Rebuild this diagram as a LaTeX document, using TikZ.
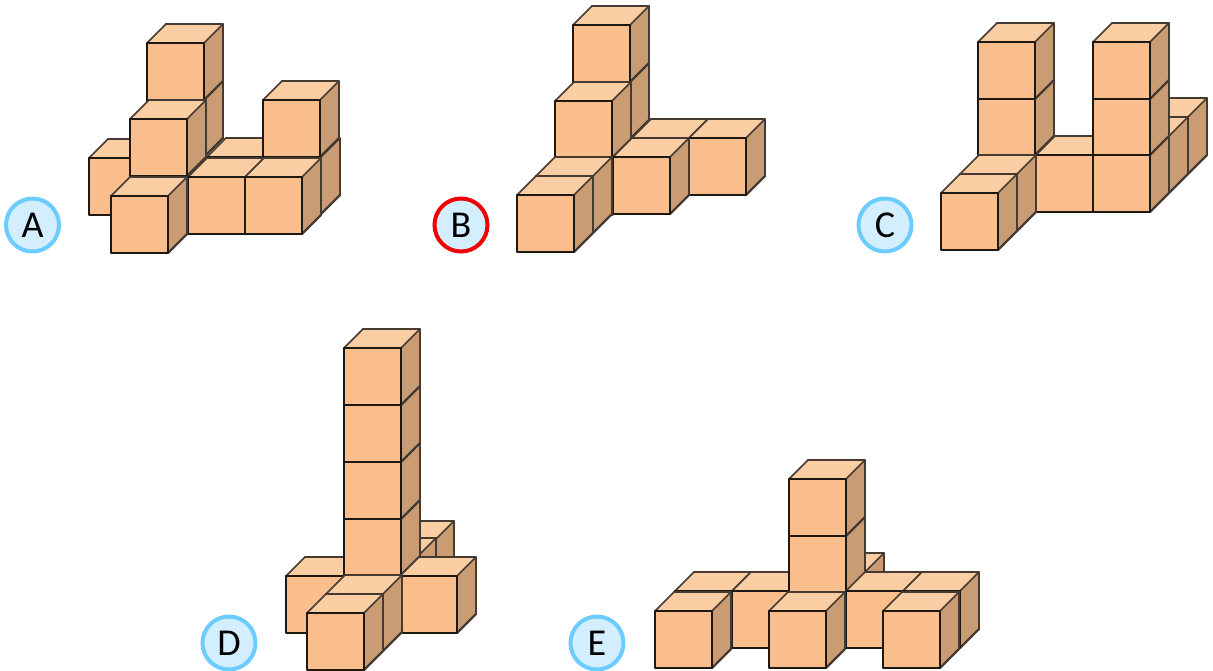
\documentclass[tikz,border=0pt]{standalone}
\usepackage{fontspec}
\setmainfont{Carlito}
\definecolor{cubeface}{HTML}{F9BE8B}
\definecolor{cubetop}{HTML}{FBCDA2}
\definecolor{cubeside}{HTML}{CA9C73}
\definecolor{cubeline}{HTML}{1E1813}
\definecolor{cubesoft}{HTML}{463B32}
\definecolor{badgefill}{HTML}{D3EEFF}
\definecolor{badgeblue}{HTML}{6CCBFF}
\definecolor{badgered}{HTML}{F00000}
\tikzset{
  frontedge/.style={draw=cubeline,line width=2.4pt,line join=round},
  backedge/.style={draw=cubesoft,line width=2.3pt,line join=round,line cap=round},
  diagedge/.style={draw=cubesoft,line width=1.5pt,line cap=round},
  badge/.style={circle,fill=badgefill,draw=badgeblue,line width=4pt,minimum size=53pt,inner sep=0pt,
    font=\fontsize{38}{38}\selectfont,text=black},
  badgewrong/.style={badge,draw=badgered}
}
% #1 = left x, #2 = bottom y of the front face (pixels, y downward)
\newcommand{\cubeat}[2]{%
  \fill[cubetop] (#1,#2-57) -- ++(19,-19) -- ++(57,0) -- ++(-19,19) -- cycle;
  \fill[cubeside] (#1+57,#2) -- ++(19,-19) -- ++(0,-57) -- ++(-19,19) -- cycle;
  \draw[backedge] (#1+19,#2-76) -- ++(57,0) -- ++(0,57);
  \draw[diagedge] (#1,#2-57) -- ++(19,-19);
  \draw[diagedge] (#1+57,#2-57) -- ++(19,-19);
  \draw[backedge] (#1+57,#2) -- ++(19,-19);
  \fill[cubeface,frontedge] (#1,#2) rectangle ++(57,-57);
}
\newcommand{\cubelist}[1]{\foreach \cx/\cy in {#1}{\cubeat{\cx}{\cy}}}
\begin{document}
\begin{tikzpicture}[x=1pt,y=-1pt]
\useasboundingbox (0,0) rectangle (1213,671);
\fill[white] (0,0) rectangle (1213,671);
% A
\cubelist{89/215,147/157,147/100,207/214,264/214,263/157,131/234,130/176,188/234,245/234,111/253}
% B
\cubelist{573/139,573/82,632/195,689/195,555/215,555/158,613/214,536/233,517/252}
% C
\cubelist{1131/174,1112/193,978/212,978/155,978/99,1036/212,1093/212,1093/155,1093/99,960/231,941/250}
% D
\cubelist{378/597,360/614,286/633,344/633,344/575,344/519,344/462,344/405,400/633,326/651,307/670}
% E
\cubelist{808/629,675/648,732/648,789/648,789/592,789/536,846/648,903/648,655/668,769/668,883/668}
% badges
\node[badge] (badgeA) at (32.5,225) {A};
\node[badgewrong] (badgeB) at (461,225) {B};
\node[badge] (badgeC) at (885,225) {C};
\node[badge] (badgeD) at (229,643) {D};
\node[badge] (badgeE) at (597,643) {E};
\end{tikzpicture}
\end{document}
